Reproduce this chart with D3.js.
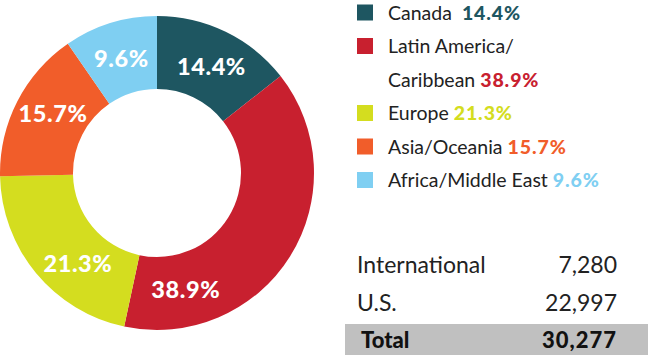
<!DOCTYPE html>
<html>
<head>
<meta charset="utf-8">
<script src="https://cdn.jsdelivr.net/npm/d3@7"></script>
<style>
  body { margin: 0; background: #fff; }
  svg { display: block; font-family: 'Lato', 'Noto Sans', sans-serif; }
</style>
</head>
<body>
<div id="chart"></div>
<script>
// Region shares (percent)
const regions = ['Canada', 'Latin America/Caribbean', 'Europe', 'Asia/Oceania', 'Africa/Middle East'];
const shares = [14.4, 38.9, 21.3, 15.7, 9.6];
const legendLines = [['Canada '], ['Latin America/', 'Caribbean'], ['Europe'], ['Asia/Oceania'], ['Africa/Middle East']];

// Enrolment table
const tableLabels = ['International', 'U.S.'];
const tableValues = [7280, 22997];
const totalLabel = 'Total';

const colors = ['#1e5661', '#c8202f', '#d4dd1f', '#f15d2a', '#7fcff2'];
// where the label sits along each slice (0 = start, 1 = end)
const labelAlong = [0.52, 0.815, 0.38, 0.55, 0.5];

const W = 650, H = 355;
const svg = d3.select('#chart').append('svg')
  .attr('width', W)
  .attr('height', H);

// Donut
const cx = 157, cy = 173, outerR = 157, innerR = 84;
const g = svg.append('g').attr('transform', `translate(${cx},${cy})`);

const pie = d3.pie().sort(null).value(d => d);
const arcs = pie(shares);
const arc = d3.arc().innerRadius(innerR).outerRadius(outerR);

g.selectAll('path.slice')
  .data(arcs)
  .join('path')
  .attr('class', 'slice')
  .attr('fill', (d, i) => colors[i])
  .attr('d', arc);

const fmt = d => d.toFixed(1) + '%';
const labelR = 120;
g.selectAll('text.pct')
  .data(arcs)
  .join('text')
  .attr('class', 'pct')
  .attr('x', (d, i) => {
    const a = d.startAngle + (d.endAngle - d.startAngle) * labelAlong[i];
    return labelR * Math.sin(a);
  })
  .attr('y', (d, i) => {
    const a = d.startAngle + (d.endAngle - d.startAngle) * labelAlong[i];
    return -labelR * Math.cos(a);
  })
  .attr('dy', '0.36em')
  .attr('text-anchor', 'middle')
  .style('font-size', '23.5px')
  .style('font-weight', 900)
  .style('letter-spacing', '0.6px')
  .style('fill', '#fff')
  .text(d => fmt(d.data));

// Legend
const legX = 357, legTop = 12.5, rowH = 33.5;
const legend = svg.append('g');
let row = 0;
regions.forEach((name, i) => {
  const y0 = legTop + row * rowH;
  legend.append('rect')
    .attr('x', legX)
    .attr('y', y0 - 8)
    .attr('width', 16)
    .attr('height', 16)
    .attr('fill', colors[i]);
  const lines = legendLines[i];
  lines.forEach((ln, j) => {
    const t = legend.append('text')
      .attr('x', legX + 31)
      .attr('y', y0 + j * rowH)
      .attr('dy', '0.36em')
      .style('font-size', '19.5px')
      .style('fill', '#222');
    t.append('tspan').text(ln);
    if (j === lines.length - 1) {
      t.append('tspan')
        .attr('dx', 5)
        .style('font-size', '19.5px')
        .style('font-weight', 900)
        .style('letter-spacing', '0.9px')
        .style('fill', colors[i])
        .text(fmt(shares[i]));
    }
  });
  row += lines.length;
});

// Table
const numFmt = d3.format(',');
const tabX = 357, tabRight = 617;
const rowY = d3.scalePoint().domain(tableLabels.concat([totalLabel])).range([265, 340]);

svg.append('rect')
  .attr('x', 345)
  .attr('y', rowY(totalLabel) - 16)
  .attr('width', W - 345 - 2)
  .attr('height', 31)
  .attr('fill', '#c0c0c0');

tableLabels.forEach((lab, i) => {
  svg.append('text')
    .attr('x', tabX)
    .attr('y', rowY(lab))
    .attr('dy', '0.36em')
    .style('font-size', '23px')
    .style('fill', '#222')
    .text(lab);
  svg.append('text')
    .attr('x', tabRight)
    .attr('y', rowY(lab))
    .attr('dy', '0.36em')
    .attr('text-anchor', 'end')
    .style('font-size', '23px')
    .style('fill', '#222')
    .text(numFmt(tableValues[i]));
});

svg.append('text')
  .attr('x', tabX + 4)
  .attr('y', rowY(totalLabel))
  .attr('dy', '0.36em')
  .style('font-size', '22px')
  .style('font-weight', 900)
  .style('fill', '#111')
  .text(totalLabel);
svg.append('text')
  .attr('x', tabRight)
  .attr('y', rowY(totalLabel))
  .attr('dy', '0.36em')
  .attr('text-anchor', 'end')
  .style('font-size', '22px')
  .style('font-weight', 900)
  .style('letter-spacing', '1px')
  .style('fill', '#111')
  .text(numFmt(d3.sum(tableValues)));
</script>
</body>
</html>
